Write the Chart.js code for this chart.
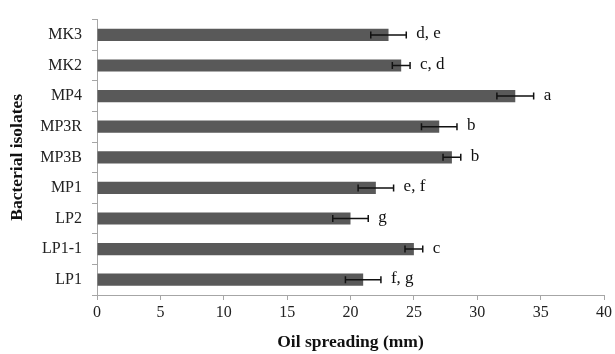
<!DOCTYPE html>
<html>
<head>
<meta charset="utf-8">
<script src="https://cdn.jsdelivr.net/npm/chart.js@4"></script>
<style>
  html,body{margin:0;padding:0;background:#fff}
  #wrap{width:615px;height:354px}
</style>
</head>
<body>
<div id="wrap"><canvas id="c" width="615" height="354"></canvas></div>
<script>
const isolates = ['MK3','MK2','MP4','MP3R','MP3B','MP1','LP2','LP1-1','LP1'];
const spreading = [23, 24, 33, 27, 28, 22, 20, 25, 21];
const errors = [1.4, 0.7, 1.45, 1.4, 0.7, 1.4, 1.4, 0.7, 1.4];
const letters = ['d, e','c, d','a','b','b','e, f','g','c','f, g'];
const xTicks = [0, 5, 10, 15, 20, 25, 30, 35, 40];

const serif = '"Liberation Serif", "Times New Roman", serif';
const axisGray = '#a6a6a6';

// error bars + significance letters
const errBars = {
  id: 'errBars',
  afterDatasetsDraw(chart){
    const ctx = chart.ctx, xs = chart.scales.x;
    const meta = chart.getDatasetMeta(0);
    ctx.save();
    ctx.strokeStyle = '#111';
    ctx.lineWidth = 1.5;
    ctx.fillStyle = '#111';
    ctx.font = '17px ' + serif;
    ctx.textBaseline = 'middle';
    meta.data.forEach((bar, i) => {
      const y = bar.y;
      const lo = xs.getPixelForValue(spreading[i] - errors[i]);
      const hi = xs.getPixelForValue(spreading[i] + errors[i]);
      ctx.beginPath();
      ctx.moveTo(lo, y); ctx.lineTo(hi, y);
      ctx.moveTo(lo, y - 3.5); ctx.lineTo(lo, y + 3.5);
      ctx.moveTo(hi, y - 3.5); ctx.lineTo(hi, y + 3.5);
      ctx.stroke();
      ctx.fillText(letters[i], hi + 10, y - 1);
    });
    ctx.restore();
  }
};

new Chart(document.getElementById('c'), {
  type: 'bar',
  data: {
    labels: isolates,
    datasets: [{
      data: spreading,
      backgroundColor: '#595959',
      borderWidth: 0,
      categoryPercentage: 1,
      barPercentage: 0.4
    }]
  },
  options: {
    indexAxis: 'y',
    responsive: false,
    animation: false,
    layout: { padding: { top: 12, right: 10, left: 0, bottom: 0 } },
    plugins: { legend: { display: false }, tooltip: { enabled: false } },
    scales: {
      x: {
        min: 0, max: 40,
        afterBuildTicks(a){ a.ticks = xTicks.map(v => ({ value: v })); },
        afterFit(a){ a.height = 59; },
        grid: { drawOnChartArea: false, color: axisGray, tickLength: 5 },
        border: { color: axisGray, width: 1 },
        ticks: { color: '#222', padding: 3, font: { family: serif, size: 16 } },
        title: {
          display: true, text: 'Oil spreading (mm)', color: '#111',
          font: { family: serif, size: 17.5, weight: 'bold' },
          padding: { top: 0, bottom: 1 }
        }
      },
      y: {
        afterFit(a){ a.width = 97; },
        grid: { drawOnChartArea: false, offset: true, color: axisGray, tickLength: 5 },
        border: { color: axisGray, width: 1 },
        ticks: { color: '#222', padding: 10, font: { family: serif, size: 16 } },
        title: {
          display: true, text: 'Bacterial isolates', color: '#111',
          font: { family: serif, size: 17.5, weight: 'bold' },
          padding: { top: 7, bottom: 0 }
        }
      }
    }
  },
  plugins: [errBars]
});
</script>
</body>
</html>
